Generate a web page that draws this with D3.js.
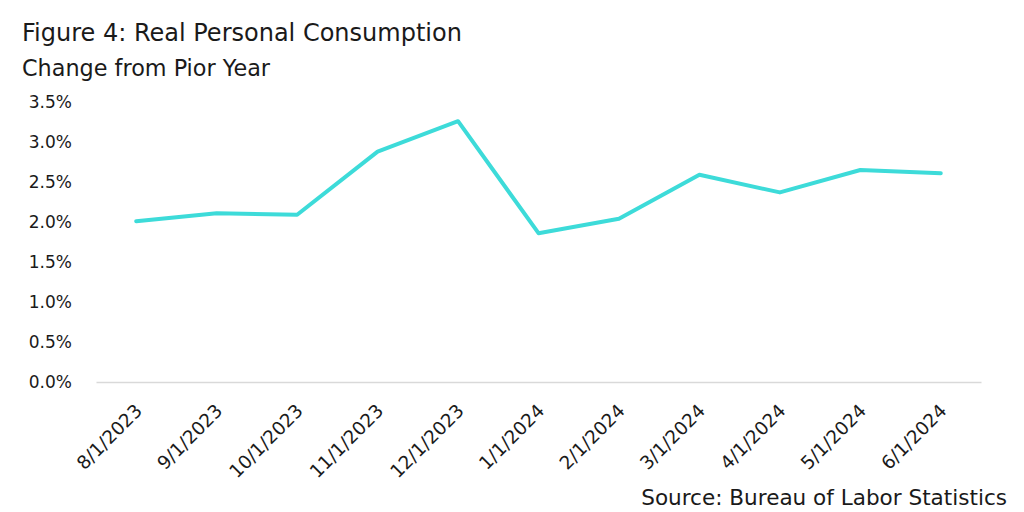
<!DOCTYPE html>
<html><head><meta charset="utf-8">
<script src="https://cdn.jsdelivr.net/npm/d3@7"></script>
<style>body{margin:0;background:#fff}svg{display:block}text{font-family:"DejaVu Sans",sans-serif;fill:#1a1a1a}</style>
</head><body><svg id="c" width="1024" height="512"></svg>
<script>
const categories = ["8/1/2023","9/1/2023","10/1/2023","11/1/2023","12/1/2023","1/1/2024","2/1/2024","3/1/2024","4/1/2024","5/1/2024","6/1/2024"];
const values = [2.01, 2.11, 2.09, 2.88, 3.26, 1.86, 2.04, 2.59, 2.37, 2.65, 2.61];
const yTicks = [0, 0.5, 1.0, 1.5, 2.0, 2.5, 3.0, 3.5];
const title = "Figure 4: Real Personal Consumption";
const subtitle = "Change from Pior Year";
const source = "Source: Bureau of Labor Statistics";

const svg = d3.select("#c");
const x = d3.scaleBand().domain(categories).range([96, 981]);
const y = d3.scaleLinear().domain([0, 3.5]).range([382, 102]);

function fit(sel, w) {
  const n = sel.node();
  const cur = n.getComputedTextLength();
  const fs = parseFloat(sel.attr("font-size"));
  sel.attr("font-size", (fs * w / cur).toFixed(2));
}

fit(svg.append("text").attr("x", 22).attr("y", 41).attr("font-size", 24).text(title), 440);
fit(svg.append("text").attr("x", 22).attr("y", 76).attr("font-size", 19).text(subtitle), 248);

const ya = svg.append("g").attr("transform", "translate(72,0)")
  .call(d3.axisLeft(y).tickValues(yTicks).tickFormat(d => d.toFixed(1) + "%").tickSize(0).tickPadding(0));
ya.select(".domain").remove();
ya.selectAll("text").attr("font-size", 17).attr("font-family", "'DejaVu Sans',sans-serif").attr("fill", "#333").attr("dy", "0.35em");

const xa = svg.append("g").attr("transform", "translate(0,382)")
  .call(d3.axisBottom(x).tickSize(0).tickPadding(0));
xa.select(".domain").attr("stroke", "#d9d9d9").attr("stroke-width", 1.5);
xa.selectAll("text").attr("font-size", 18.5).attr("font-family", "'DejaVu Sans',sans-serif").attr("fill", "#333")
  .attr("text-anchor", "end").attr("dy", 0).attr("y", 0)
  .attr("transform", "translate(7,30) rotate(-45)");

const line = d3.line().x((d, i) => x(categories[i]) + x.bandwidth() / 2).y(d => y(d));
svg.append("path").datum(values).attr("d", line).attr("fill", "none")
  .attr("stroke", "#3ddbd9").attr("stroke-width", 4).attr("stroke-linejoin", "round").attr("stroke-linecap", "round");

fit(svg.append("text").attr("x", 1007).attr("y", 505).attr("text-anchor", "end").attr("font-size", 19).text(source), 366);
</script></body></html>
